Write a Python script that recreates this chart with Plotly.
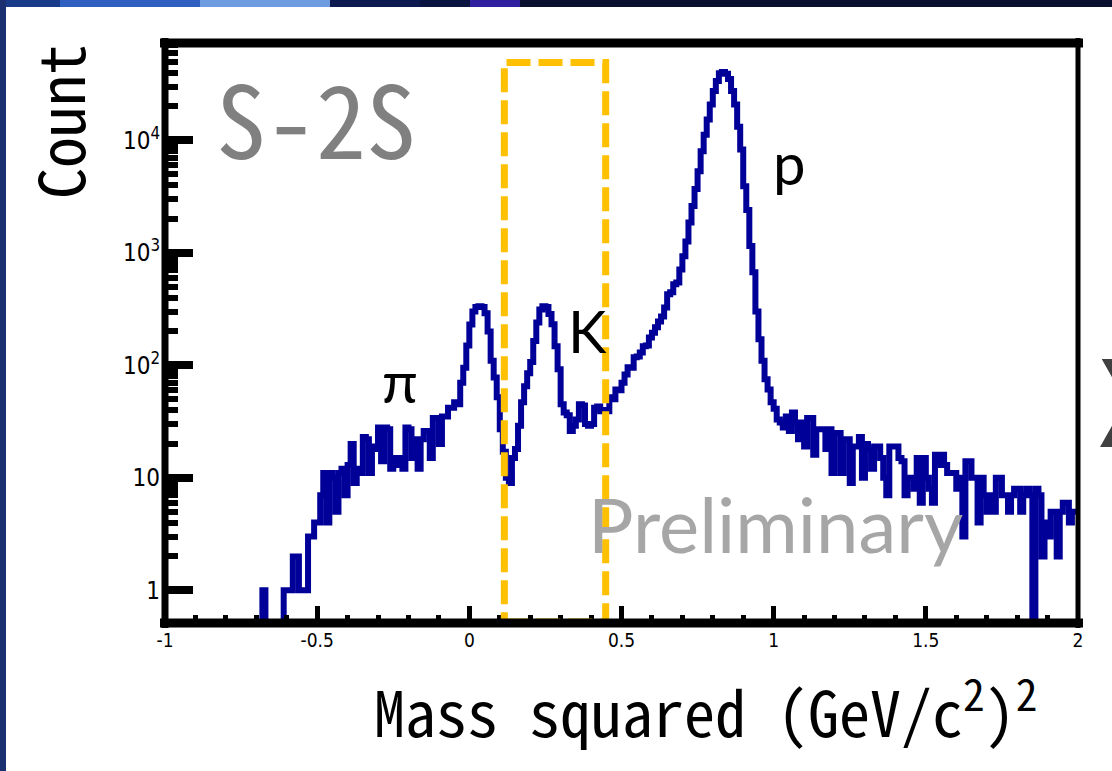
import numpy as np
import plotly.graph_objects as go

# ---------------- data ----------------
bin_lo, bin_hi, n_bins = -1.0, 2.0, 300
counts = [
    0, 0, 0, 0, 0, 0, 0, 0, 0, 0,
    0, 0, 0, 0, 0, 0, 0, 0, 0, 0,
    0, 0, 0, 0, 0, 0, 0, 0, 0, 0,
    0, 0, 1, 0, 0, 0, 0, 0, 0, 1,
    1, 1, 2, 2, 1, 1, 1, 3, 3, 4,
    4, 7, 11, 4, 11, 10, 5, 11, 12, 7,
    13, 20, 9, 12, 11, 23, 22, 11, 19, 18,
    28, 14, 28, 27, 12, 15, 13, 15, 12, 28,
    27, 15, 22, 12, 22, 26, 26, 15, 34, 34,
    20, 35, 35, 42, 42, 47, 45, 70, 95, 150,
    230, 300, 330, 335, 330, 290, 200, 110, 78, 52,
    27, 17, 10, 9, 15, 18, 29, 47, 65, 85,
    107, 164, 240, 314, 335, 330, 285, 232, 148, 92,
    45, 38, 36, 26, 29, 33, 45, 44, 30, 29,
    30, 42, 43, 39, 40, 39, 52, 50, 61, 60,
    70, 83, 96, 95, 118, 120, 130, 148, 150, 177,
    195, 218, 245, 272, 326, 428, 445, 525, 545, 710,
    930, 1260, 1860, 2600, 3700, 5300, 8000, 11200, 15300, 20800,
    27500, 33700, 39500, 40500, 39000, 35000, 27500, 20800, 13200, 8300,
    3900, 2400, 1150, 670, 300, 170, 110, 75, 61, 47,
    41, 33, 31, 28, 35, 26, 38, 31, 22, 31,
    19, 34, 34, 16, 27, 27, 27, 18, 27, 11,
    25, 25, 11, 22, 22, 9, 19, 19, 23, 10,
    20, 18, 12, 19, 19, 15, 10, 7, 19, 19,
    19, 15, 14, 7, 10, 10, 8, 15, 6, 15,
    10, 8, 6, 16, 13, 16, 13, 11, 11, 11,
    8, 10, 3, 14, 14, 10, 10, 4, 10, 7,
    5, 7, 5, 10, 10, 7, 7, 5, 7, 8,
    8, 5, 7, 8, 7, 0, 8, 7, 2, 4,
    3, 5, 5, 2, 5, 6, 6, 4, 5, 5,
]
x_tick_vals = [-1, -0.5, 0, 0.5, 1, 1.5, 2]
x_tick_text = ["-1", "-0.5", "0", "0.5", "1", "1.5", "2"]
y_tick_vals = [1, 10, 100, 1000, 10000]
y_tick_text = ["1", "10", "10<sup>2</sup>", "10<sup>3</sup>", "10<sup>4</sup>"]
y_range_log = [-0.291, 4.865]
cut_lo, cut_hi = 0.115, 0.448          # orange selection window (GeV/c^2)^2
labels = {"pi": "π", "K": "K", "p": "p"}

# ---------------- derived ----------------
edges = np.linspace(bin_lo, bin_hi, n_bins + 1)
cnt = np.array(counts, dtype=float)
floor_val = 0.1                          # empty bins drawn down below the axis
yplot = np.where(cnt > 0, cnt, floor_val)
yplot = np.append(yplot, yplot[-1])

x_minor = [round(v, 2) for v in np.arange(-0.9, 2.0, 0.1) if abs(round(v * 2) - v * 2) > 1e-6]
y_minor = [m * 10 ** k for k in range(0, 5) for m in range(2, 10) if m * 10 ** k < 10 ** y_range_log[1]]

W, H = 1112, 771
L, R, T, B = 165, 34, 43, 148
PW, PH = W - L - R, H - T - B


def px(xp):
    return (xp - L) / PW


def py(yp):
    return (H - B - yp) / PH


fig = go.Figure()
fig.add_trace(go.Scatter(
    x=edges, y=yplot, mode="lines",
    line=dict(color="#000099", width=6, shape="hv"),
    hoverinfo="skip", showlegend=False,
))

narrow = "Liberation Sans Narrow, DejaVu Sans Condensed, Liberation Sans, Arial"
tick_font_x = dict(family=narrow, size=19, color="black")
tick_font_y = dict(family=narrow, size=24, color="black")

fig.update_layout(
    width=W, height=H,
    margin=dict(l=L, r=R, t=T, b=B, pad=0),
    paper_bgcolor="white", plot_bgcolor="white",
    showlegend=False,
    xaxis=dict(
        range=[bin_lo, bin_hi], showgrid=False, zeroline=False, showline=False,
        tickmode="array", tickvals=x_tick_vals, ticktext=x_tick_text,
        ticks="inside", ticklen=17, tickwidth=5, tickcolor="black",
        tickfont=tick_font_x, ticklabelstandoff=4,
        minor=dict(tickmode="array", tickvals=x_minor, ticks="inside",
                   ticklen=8, tickwidth=5, tickcolor="black", showgrid=False),
    ),
    yaxis=dict(
        type="log", range=y_range_log, showgrid=False, zeroline=False, showline=False,
        tickmode="array", tickvals=y_tick_vals, ticktext=y_tick_text,
        ticks="inside", ticklen=28, tickwidth=8, tickcolor="black",
        tickfont=tick_font_y, ticklabelstandoff=4,
        minor=dict(tickmode="array", tickvals=y_minor, ticks="inside",
                   ticklen=13, tickwidth=6, tickcolor="black", showgrid=False),
    ),
)

shapes = []
# slide background strips (top and left)
top_strip = [(0, 60, "#1a3a8a"), (60, 200, "#2f5fc0"), (200, 330, "#6f9be0"),
             (330, 420, "#0d1a50"), (420, 470, "#0a1440"), (470, 520, "#3020a0"),
             (520, W, "#0a1030")]
for a, b, c in top_strip:
    shapes.append(dict(type="rect", xref="paper", yref="paper", x0=px(a), x1=px(b),
                       y0=py(7), y1=py(0), fillcolor=c, line=dict(width=0), layer="below"))
shapes.append(dict(type="rect", xref="paper", yref="paper", x0=px(0), x1=px(6),
                   y0=py(H), y1=py(0), fillcolor="#1a3070", line=dict(width=0), layer="below"))
# selection window
shapes.append(dict(type="rect", xref="x", yref="paper", x0=cut_lo, x1=cut_hi,
                   y0=py(622), y1=py(62.5),
                   line=dict(color="#FFC000", width=7, dash="24px,8px"), layer="above"))
# frame
ex, ey = 5 / PW, 5 / PH
frame = [
    (0 - ex, 0, 1 + ex, 0, 9),   # bottom
    (0 - ex, 1, 1 + ex, 1, 9),   # top
    (0, 0 - ey, 0, 1 + ey, 7),   # left
    (1, 0 - ey, 1, 1 + ey, 5),   # right
]
for x0, y0, x1, y1, w in frame:
    shapes.append(dict(type="line", xref="paper", yref="paper", x0=x0, y0=y0, x1=x1, y1=y1,
                       line=dict(color="black", width=w), layer="above"))
fig.update_layout(shapes=shapes)

mono = "Noto Sans Mono CJK JP, Noto Sans CJK JP, DejaVu Sans Mono"
ann = [
    dict(text="Count", x=px(58), y=py(122), textangle=-90,
         font=dict(family=mono, size=62, color="black")),
    dict(text="Mass squared (GeV/c<sup>2</sup>)<sup>2</sup>", x=px(705), y=py(708),
         font=dict(family=mono, size=62, color="black")),
    dict(text="S-2S", x=px(316), y=py(116),
         font=dict(family=mono, size=100, color="#808080")),
    dict(text=labels["pi"], x=px(400), y=py(380),
         font=dict(family="Lato, Noto Sans", size=58, color="black")),
    dict(text=labels["K"], x=px(587), y=py(330),
         font=dict(family="Lato, Noto Sans", size=58, color="black")),
    dict(text=labels["p"], x=px(789), y=py(162),
         font=dict(family="Lato, Noto Sans", size=58, color="black")),
    dict(text="Preliminary", x=px(775), y=py(523),
         font=dict(family="Lato, Noto Sans", size=76, color="#A6A6A6")),
    dict(text="X", x=px(1132), y=py(395),
         font=dict(family="Noto Sans CJK JP", size=120, color="#404040")),
]
for a in ann:
    a.update(xref="paper", yref="paper", showarrow=False, xanchor="center", yanchor="middle")
fig.update_layout(annotations=ann)

fig.write_html("out.html")
